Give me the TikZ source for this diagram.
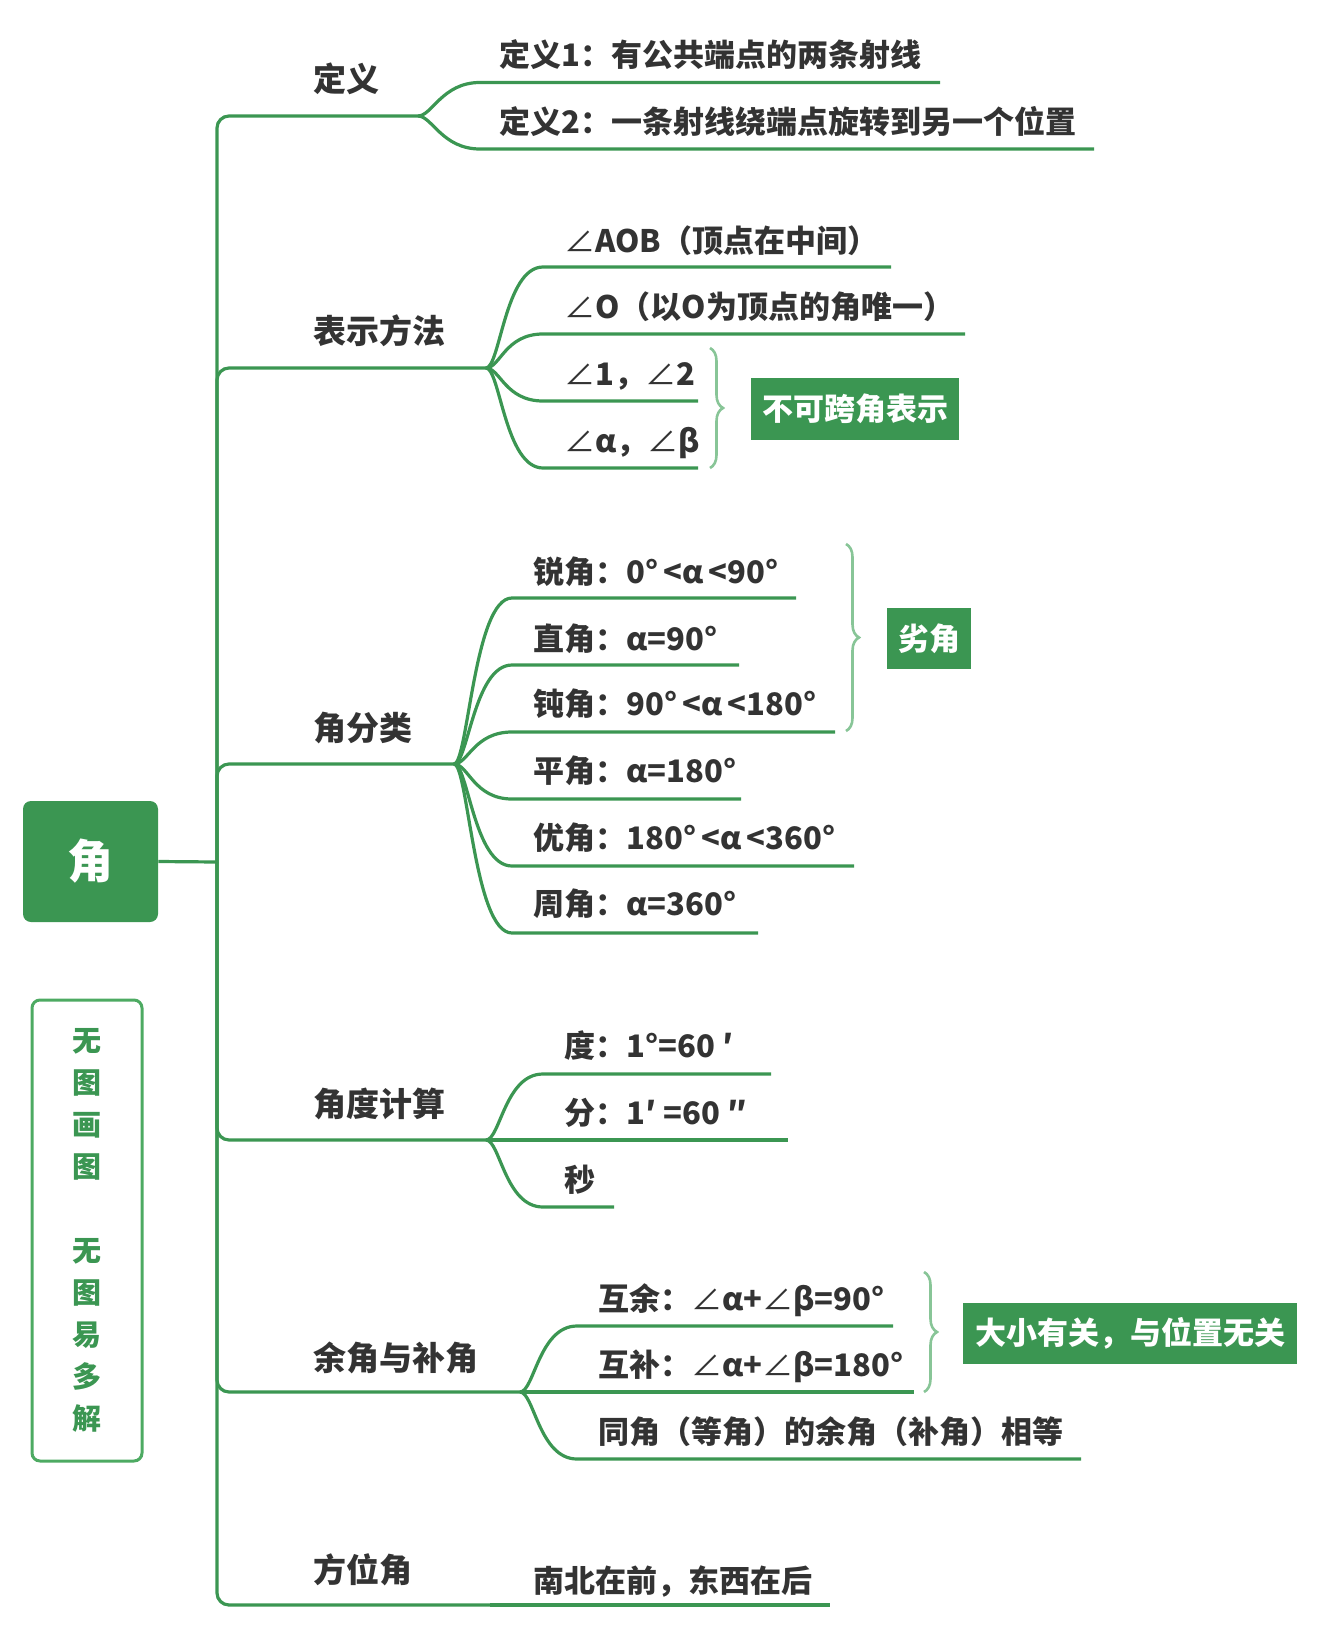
\documentclass[tikz,border=0pt]{standalone}
\usepackage{fontspec}
\setmainfont{Noto Sans CJK SC}
\usetikzlibrary{decorations.pathreplacing,positioning}
\definecolor{mmgreen}{HTML}{3B9652}
\definecolor{mmlight}{HTML}{88C597}
\definecolor{mmedge}{HTML}{4DAA62}
\definecolor{mmtext}{HTML}{333333}
\newcommand\angsym{{\mdseries ∠}}

\begin{document}
\begin{tikzpicture}[
            x=0.5pt,y=-0.5pt,
            branch/.style={mmgreen,line width=1.6pt},
            leaf/.style={anchor=base west,inner sep=0pt,text=mmtext,font=\bfseries\fontsize{15.5}{18}\selectfont},
            topic/.style={leaf,font=\bfseries\fontsize{16.5}{19}\selectfont},
            tag/.style={fill=mmgreen,text=white,inner sep=0pt,font=\bfseries\fontsize{15.5}{18}\selectfont},
            grp/.style={mmlight,line width=1.3pt,decorate,decoration={brace,amplitude=6.5pt}},
            fork/.style={to path={.. controls +(14,0) and +(-38,0) .. (\tikztotarget)}}
        ]
            \useasboundingbox (0,0) rectangle (1320,1637);
            \node [fill=mmgreen,rounded corners=4pt,minimum width=67.5pt,minimum height=60.5pt,
                text=white,font=\bfseries\fontsize{23}{26}\selectfont] (root) at (90.5,861.5) {角};
            \coordinate (hub) at (217,862);
            \draw [branch] (root.east) -- (hub);
            \node [draw=mmedge,line width=1.5pt,rounded corners=4pt,minimum width=55pt,minimum height=230.5pt,
                align=center,text=mmgreen,font=\bfseries\fontsize{14.5}{21}\selectfont] (note) at (87,1230.5)
                {无\\图\\画\\图\\~\\无\\图\\易\\多\\解};
            % first level
            \foreach \nm/\ty/\jx/\jy/\txt in {def/92/418/116/定义,rep/343/486/368/表示方法,cls/740/454/764/角分类,
                    calc/1116/486/1140/角度计算,comp/1370/520/1392/余角与补角,dir/1582/490/1605/方位角} {
                \node [topic] (\nm) at (313,\ty) {\txt};
                \coordinate (j-\nm) at (\jx,\jy);
                \draw [branch,rounded corners=6pt] (hub) |- (j-\nm);
            }
            % definitions
            \foreach \i/\by/\ly/\ex/\txt in {1/67/82.5/940/定义1：有公共端点的两条射线,2/134/149/1094/定义2：一条射线绕端点旋转到另一个位置} {
                \node [leaf] (def-\i) at (499,\by) {\txt};
                \coordinate (def-\i-s) at (480,\ly);
                \coordinate (def-\i-e) at (\ex,\ly);
                \draw [branch] (j-def) to [fork] (def-\i-s) -- (def-\i-e);
            }
            % notation
            \foreach \i/\by/\ly/\ex/\txt in {1/252/267/891/\angsym AOB（顶点在中间）,2/318/334/965/\angsym O（以O为顶点的角唯一）,
                    3/385/401/698/\angsym 1，\angsym 2,4/452/468/698/\angsym α，\angsym β} {
                \node [leaf] (rep-\i) at (564,\by) {\txt};
                \coordinate (rep-\i-s) at (543,\ly);
                \coordinate (rep-\i-e) at (\ex,\ly);
                \draw [branch] (j-rep) to [fork] (rep-\i-s) -- (rep-\i-e);
            }
            \coordinate (rep-bt) at (710,348);
            \coordinate (rep-bb) at (710,468);
            \draw [grp] (rep-bt) -- (rep-bb);
            \node [tag,minimum width=104pt,minimum height=31pt] (rep-tag) at (855,409) {不可跨角表示};
            % kinds
            \foreach \i/\by/\ly/\ex/\txt in {1/583/598/796/锐角：0°\thinspace<α\thinspace<90°,2/650/665/739/直角：α=90°,
                    3/715/732/835/钝角：90°\thinspace<α\thinspace<180°,4/782/799/741/平角：α=180°,
                    5/849/866/854/优角：180°\thinspace<α\thinspace<360°,6/915/933/758/周角：α=360°} {
                \node [leaf] (cls-\i) at (533,\by) {\txt};
                \coordinate (cls-\i-s) at (512,\ly);
                \coordinate (cls-\i-e) at (\ex,\ly);
                \draw [branch] (j-cls) to [fork] (cls-\i-s) -- (cls-\i-e);
            }
            \coordinate (cls-bt) at (846,544);
            \coordinate (cls-bb) at (846,731);
            \draw [grp] (cls-bt) -- (cls-bb);
            \node [tag,minimum width=42pt,minimum height=30.5pt] (cls-tag) at (929,638.5) {劣角};
            % units
            \foreach \i/\by/\ly/\ex/\txt in {1/1057/1074/771/度：1°=60 ′,2/1124/1140/788/分：1′ =60 ″,3/1191/1207/614/秒} {
                \node [leaf] (calc-\i) at (564,\by) {\txt};
                \coordinate (calc-\i-s) at (543,\ly);
                \coordinate (calc-\i-e) at (\ex,\ly);
                \draw [branch] (j-calc) to [fork] (calc-\i-s) -- (calc-\i-e);
            }
            % complements
            \foreach \i/\by/\ly/\ex/\txt in {1/1310/1326/893/互余：\angsym α+\angsym β=90°,2/1376/1392/914/互补：\angsym α+\angsym β=180°,
                    3/1443/1459/1081/同角（等角）的余角（补角）相等} {
                \node [leaf] (comp-\i) at (598,\by) {\txt};
                \coordinate (comp-\i-s) at (577,\ly);
                \coordinate (comp-\i-e) at (\ex,\ly);
                \draw [branch] (j-comp) to [fork] (comp-\i-s) -- (comp-\i-e);
            }
            \coordinate (comp-bt) at (924,1272);
            \coordinate (comp-bb) at (924,1392);
            \draw [grp] (comp-bt) -- (comp-bb);
            \node [tag,minimum width=167pt,minimum height=30.5pt] (comp-tag) at (1130,1333.5) {大小有关，与位置无关};
            % bearing
            \node [leaf] (dir-1) at (533,1592) {南北在前，东西在后};
            \coordinate (dir-1-e) at (830,1605);
            \draw [branch] (j-dir) -- (dir-1-e);
        \end{tikzpicture}
\end{document}
